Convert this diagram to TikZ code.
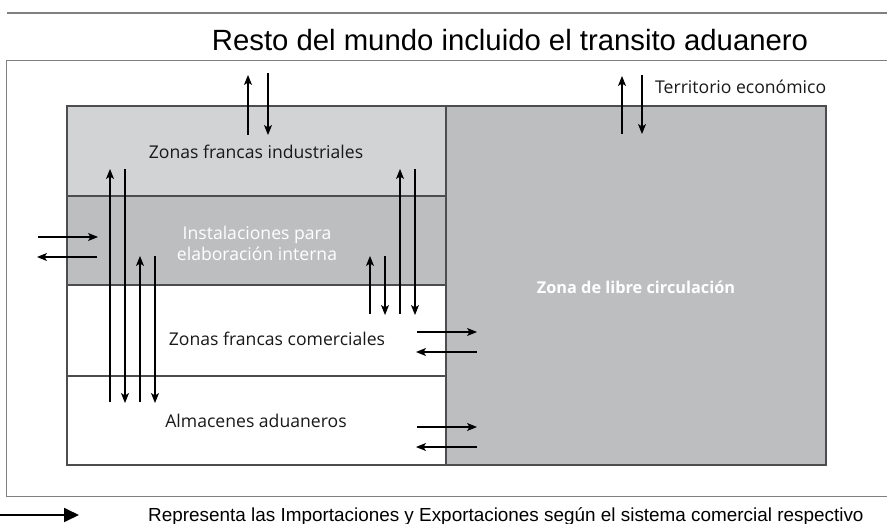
\documentclass[tikz,border=0pt]{standalone}
\usepackage{fontspec}
\setmainfont{Liberation Sans}
\newfontfamily\myr{Open Sans}
\usetikzlibrary{arrows.meta}
\definecolor{lightg}{HTML}{D1D3D4}
\definecolor{midg}{HTML}{BCBEC0}
\definecolor{edgeg}{HTML}{4D4D4F}
\definecolor{framg}{HTML}{808080}
\tikzset{
  zone/.style={draw=edgeg, line width=1.1pt, anchor=north west, inner sep=0pt, outer sep=0pt},
  flow/.style={draw=black, line width=1.1pt, -{Stealth[length=10pt,width=8pt,inset=2.5pt]}},
  lbl/.style={font=\myr\fontsize{17.6}{21}\selectfont, text=black!90, inner sep=0pt},
  wlbl/.style={font=\myr\fontsize{17.6}{21}\selectfont, text=white, inner sep=0pt, align=center},
}
\begin{document}
\begin{tikzpicture}[x=1pt,y=-1pt]
\useasboundingbox (0,0) rectangle (887,524);
% top rule and title
\coordinate (rA) at (7,13); \coordinate (rB) at (887,13);
\draw[framg, line width=1.4pt] (rA) -- (rB);
\node[font=\fontsize{29.3}{34}\selectfont, inner sep=0pt] (title) at (510,40) {Resto del mundo incluido el transito aduanero};
% outer frame
\node[draw=framg, line width=1.2pt, anchor=north west, minimum width=890pt, minimum height=436pt, inner sep=0pt] (outer) at (6,60) {};
% zones
\node[zone, fill=midg, minimum width=380pt, minimum height=359pt] (libre) at (446,106) {};
\node[zone, fill=lightg, minimum width=379pt, minimum height=90pt] (ind) at (67,106) {};
\node[zone, fill=midg, minimum width=379pt, minimum height=89pt] (inst) at (67,196) {};
\node[zone, fill=white, minimum width=379pt, minimum height=91pt] (com) at (67,285) {};
\node[zone, fill=white, minimum width=379pt, minimum height=89pt] (alm) at (67,376) {};
% labels
\node[lbl] (tind) at (256,152) {Zonas francas industriales};
\node[wlbl] (tinst) at (257,243) {Instalaciones para\\elaboración interna};
\node[lbl] (tcom) at (277,339) {Zonas francas comerciales};
\node[lbl] (talm) at (256,421) {Almacenes aduaneros};
\node[wlbl, font=\myr\bfseries\fontsize{16.3}{20}\selectfont] (tlib) at (636,287) {Zona de libre circulación};
\node[lbl, anchor=west] (tter) at (655,87) {Territorio económico};
% coordinates for flows
\coordinate (a1s) at (248,135); \coordinate (a1e) at (248,75);
\coordinate (a2s) at (268,73);  \coordinate (a2e) at (268,135);
\coordinate (b1s) at (622,134); \coordinate (b1e) at (622,76);
\coordinate (b2s) at (642,75);  \coordinate (b2e) at (642,134);
\coordinate (c1s) at (110,402); \coordinate (c1e) at (110,169);
\coordinate (c2s) at (125,169); \coordinate (c2e) at (125,403);
\coordinate (c3s) at (140,402); \coordinate (c3e) at (140,256);
\coordinate (c4s) at (155,256); \coordinate (c4e) at (155,403);
\coordinate (d1s) at (400,314); \coordinate (d1e) at (400,169);
\coordinate (d2s) at (415,169); \coordinate (d2e) at (415,315);
\coordinate (d3s) at (370,314); \coordinate (d3e) at (370,256);
\coordinate (d4s) at (385,256); \coordinate (d4e) at (385,315);
\coordinate (e1s) at (38,237);  \coordinate (e1e) at (98,237);
\coordinate (e2s) at (97,257);  \coordinate (e2e) at (37,257);
\coordinate (f1s) at (417,332); \coordinate (f1e) at (477,332);
\coordinate (f2s) at (477,352); \coordinate (f2e) at (416,352);
\coordinate (g1s) at (417,427); \coordinate (g1e) at (477,427);
\coordinate (g2s) at (477,447); \coordinate (g2e) at (416,447);
\foreach \p in {a1,a2,b1,b2,c1,c2,c3,c4,d1,d2,d3,d4,e1,e2,f1,f2,g1,g2}
  \draw[flow] (\p s) -- (\p e);
% legend
\coordinate (ls) at (0,515); \coordinate (le) at (79,515);
\draw[line width=1.8pt, -{Triangle[length=15pt,width=14pt]}] (ls) -- (le);
\node[font=\fontsize{18.9}{22}\selectfont, anchor=west, inner sep=0pt] (leg) at (148,516) {Representa las Importaciones y Exportaciones según el sistema comercial respectivo};
\end{tikzpicture}
\end{document}
